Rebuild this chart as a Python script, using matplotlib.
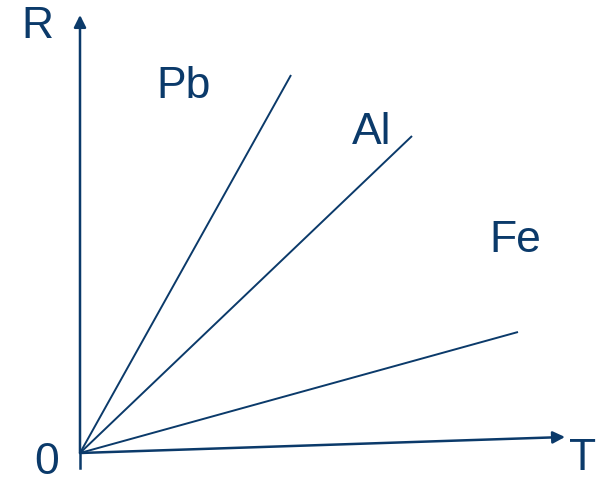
import matplotlib
matplotlib.use('Agg')
import matplotlib.pyplot as plt

# R(T) for three metals, in arbitrary units (origin at 0)
metals = ['Pb', 'Al', 'Fe']
t_end = [211, 332, 438]
r_end = [378, 317, 121]
label_xy = [(104, 366), (292, 321), (435, 212)]

# axes ends
t_axis_end = (485, 16)
r_axis_end = (0, 438)

navy = '#0b3a6a'
plt.rcParams['font.family'] = ['Liberation Sans', 'DejaVu Sans']

fig = plt.figure(figsize=(6.01, 4.83), dpi=100)
ax = fig.add_axes([0, 0, 1, 1])
ax.set_xlim(-80, 521)
ax.set_ylim(-30, 453)
ax.axis('off')

# lines for the metals
for name, t, r, (lx, ly) in zip(metals, t_end, r_end, label_xy):
    ax.plot([0, t], [0, r], color=navy, lw=1.4, solid_capstyle='butt')
    ax.text(lx, ly, name, color=navy, fontsize=32, ha='center', va='center')

# axes with arrowheads
ax.plot([0, 0], [-15, 0], color=navy, lw=1.8)
ax.annotate('', xy=r_axis_end, xytext=(0, 0),
            arrowprops=dict(arrowstyle='-|>', color=navy, lw=1.8, mutation_scale=18,
                            shrinkA=0, shrinkB=0))
ax.annotate('', xy=t_axis_end, xytext=(0, 0),
            arrowprops=dict(arrowstyle='-|>', color=navy, lw=1.8, mutation_scale=18,
                            shrinkA=0, shrinkB=0))

ax.text(-43, 427, 'R', color=navy, fontsize=32, ha='center', va='center')
ax.text(-33, -10, '0', color=navy, fontsize=32, ha='center', va='center')
ax.text(503, -5, 'T', color=navy, fontsize=32, ha='center', va='center')

fig.savefig('out.png', dpi=100)
